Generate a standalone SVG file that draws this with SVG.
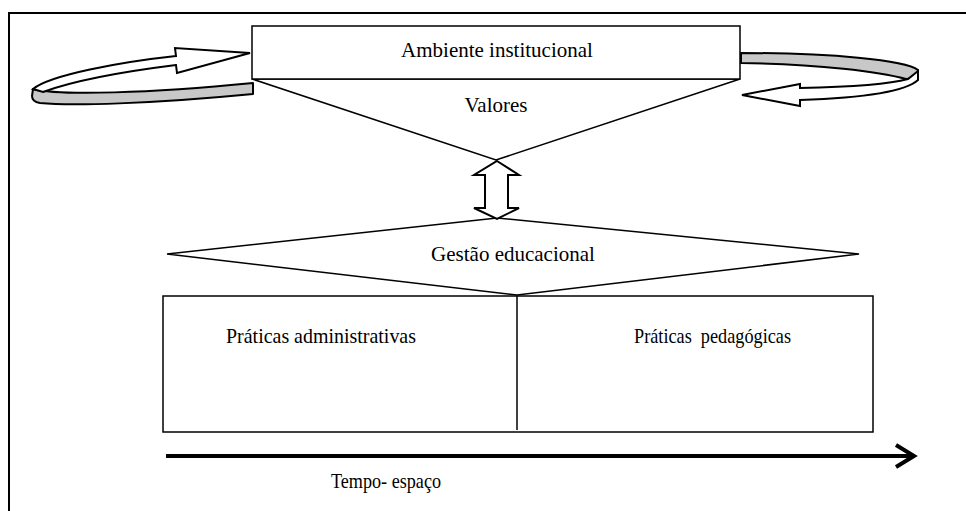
<svg xmlns="http://www.w3.org/2000/svg" width="966" height="511" viewBox="0 0 966 511">
<style>
.ln{fill:#fff;stroke:#000;stroke-width:1.5;stroke-linejoin:miter}
.band{fill:#c8c8c8;stroke:#000;stroke-width:2;stroke-linejoin:round}
.rib{fill:#fff;stroke:#000;stroke-width:2;stroke-linejoin:miter}
.t{font-family:"Liberation Serif","Times New Roman",serif;font-size:21px;fill:#000}
</style>
<rect width="966" height="511" fill="#fff"/>
<rect id="frame" x="9" y="13" width="1000" height="600" fill="none" stroke="#000" stroke-width="2"/>
<g id="valores">
<polygon class="ln" points="252,79 740,79 496,160"/>
<text class="t" x="496" y="112" text-anchor="middle">Valores</text>
</g>
<g id="ambiente">
<rect class="ln" x="252" y="26" width="488" height="53"/>
<text class="t" x="497" y="57" text-anchor="middle">Ambiente institucional</text>
</g>
<g id="gestao">
<polygon class="ln" points="167,254 497,218 859,254 517,295"/>
<text class="t" x="513" y="261" text-anchor="middle">Gestão educacional</text>
</g>
<g id="praticas">
<rect class="ln" x="163" y="296" width="710" height="136"/>
<line x1="517" y1="296" x2="517" y2="430" stroke="#000" stroke-width="1.5"/>
<text class="t" x="226" y="343" textLength="190" lengthAdjust="spacingAndGlyphs">Práticas administrativas</text>
<text class="t" x="634" y="343" textLength="157" lengthAdjust="spacingAndGlyphs" xml:space="preserve">Práticas  pedagógicas</text>
</g>
<g id="connectors">
<path class="band" d="M33,89 C60,96 150,93 253,83 L253,94 C150,104 70,106 40,103 C34,102 32,100 32,96 Z"/>
<path class="rib" d="M33,89 C50,75 120,62 176,56 L175,48 L250,53 L177,73 L176,65 C120,72 70,82 43,92 Z"/>
<path class="band" d="M741,53 C830,53 905,60 918,70 L918,74 C914,77 910,79 906,79 C880,72 820,64 741,63 Z"/>
<path class="rib" d="M918,71 L918,80 C905,92 860,98 800,100 L800,106 L742,95 L800,84 L800,88 C850,87 890,84 908,79 Z"/>
<polygon class="rib" points="497,161 519,175 508,175 508,208 519,208 497,219 474,208 485,208 485,175 474,175"/>
<line x1="166" y1="456" x2="912" y2="456" stroke="#000" stroke-width="4"/>
<polyline points="896,445 914,456 896,467" fill="none" stroke="#000" stroke-width="4"/>
</g>
<text id="tempo" class="t" x="331" y="488" textLength="110" lengthAdjust="spacingAndGlyphs">Tempo- espaço</text>
</svg>
